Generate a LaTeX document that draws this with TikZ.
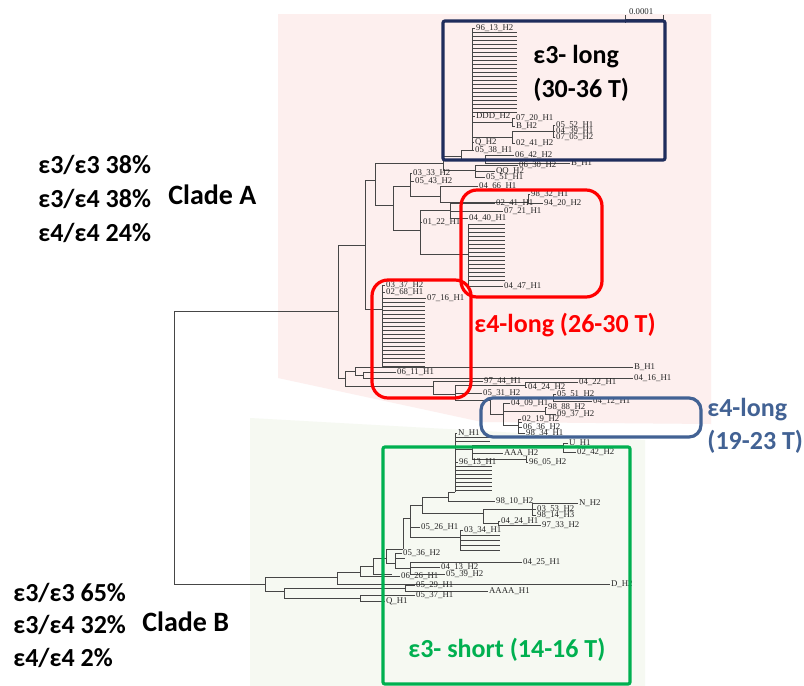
\documentclass[tikz,border=0pt]{standalone}
\usepackage{fontspec}
\setmainfont{Carlito}
\newfontfamily\treefont{Liberation Serif}
\definecolor{navybox}{RGB}{31,45,92}
\definecolor{redbox}{RGB}{255,0,0}
\definecolor{steelbox}{RGB}{66,98,148}
\definecolor{greenbox}{RGB}{0,176,80}
\definecolor{pinkbg}{RGB}{253,239,238}
\definecolor{greenbg}{RGB}{246,249,242}
\definecolor{branch}{RGB}{70,70,70}
\tikzset{
  br/.style={draw=branch,line width=0.5pt},
  stack/.style={draw=branch,line width=0.4pt},
  leaf/.style={font=\treefont\fontsize{4.4}{5}\selectfont,text=black!85,inner sep=0.3pt,anchor=west},
  big/.style={font=\bfseries\fontsize{13}{15}\selectfont,inner sep=0pt,anchor=west},
  clade/.style={font=\bfseries\fontsize{14}{16}\selectfont,inner sep=0pt,anchor=west},
  groupbox/.style={line width=1.6pt},
}
\begin{document}
\begin{tikzpicture}[x=0.5pt,y=-0.5pt]
  \useasboundingbox (0,0) rectangle (804,686);
  \fill[white] (0,0) rectangle (804,686);
  % zoom panels
  \fill[greenbg] (250,418) -- (645,440) -- (645,686) -- (250,686) -- cycle;
  \fill[pinkbg] (278,14) -- (711,14) -- (711,424) -- (482,422) -- (278,378) -- cycle;

  % scale bar
  \draw[br] (625,15) -- (625,23) (625,19) -- (663,19) (663,15) -- (663,23);
  \node[leaf] (scale) at (628,12) {0.0001};

  % root
  \draw[br] (338,311) -| (174,584) -- (265,584);

  % clade A
  \draw[br] (365,245) -| (338,378) -- (345,378);
  \draw[br] (375,180) -| (365,309) -- (382,309);
  \draw[br] (443,163) -| (375,205) -- (393,205);
  % e3 long group
  \draw[br] (461,156) -| (443,170) -- (475,170);
  \draw[br] (472,150) -| (461,160) -- (485,160);
  \draw[br] (472,28) -- (472,150);
  \draw[br] (472,28) -- (475,28) node[leaf] (e9613) {96\_13\_H2};
  \foreach \y in {32,36,...,112} \draw[stack] (472,\y) -- (517,\y);
  \draw[br] (472,116) -- (475,116) node[leaf] (eddd) {DDD\_H2};
  \draw[br] (472,122) -- (512,122);
  \draw[br] (515,118) node[leaf] (e0720) {07\_20\_H1} -| (512,126) -- (515,126) node[leaf] (ebh2) {B\_H2};
  \draw[br] (472,137) -- (512,137);
  \draw[br] (553,131) -| (512,143) -- (515,143) node[leaf] (e0241) {02\_41\_H2};
  \draw[br] (555,125) node[leaf] (e0552) {05\_52\_H1} -| (553,137) -- (555,137) node[leaf] (e0705) {07\_05\_H2};
  \draw[br] (553,131) -- (555,131) node[leaf] (e0439) {04\_39\_H1};
  \draw[br] (472,142) -- (474,142) node[leaf] (eq2) {Q\_H2};
  \draw[br] (472,150) -- (474,150) node[leaf] (e0538) {05\_38\_H1};
  \draw[br] (514,155) node[leaf] (e0642) {06\_42\_H2} -| (485,163) -- (570,163) node[leaf] (ebh1) {B\_H1};
  \draw[br] (518,165) node[leaf] (e0630) {06\_30\_H2} -| (475,177) -- (485,177) node[leaf] (e0551) {05\_51\_H1};
  \draw[br] (475,171) -- (495,171) node[leaf] (eqq2) {QQ\_H2};
  % middle groups
  \draw[br] (410,186) -| (393,230) -- (420,230);
  \draw[br] (412,173) node[leaf] (a0333) {03\_33\_H2} -| (410,196) -- (440,196);
  \draw[br] (410,181) -- (414,181) node[leaf] (a0543) {05\_43\_H2};
  \draw[br] (478,186) node[leaf] (a0466) {04\_66\_H1} -| (440,202) -- (528,202);
  \draw[br] (530,194) node[leaf] (a9832) {98\_32\_H1} -| (528,203) -- (543,203) node[leaf] (a9420) {94\_20\_H2};
  \draw[br] (450,210) -| (420,254) -- (468,254);
  \draw[br] (420,222) -- (422,222) node[leaf] (a0122) {01\_22\_H1};
  \draw[br] (495,203) node[leaf] (a0241) {02\_41\_H1} -| (450,218) -- (468,218) node[leaf] (a0440) {04\_40\_H1};
  \draw[br] (450,211) -- (503,211) node[leaf] (a0721) {07\_21\_H1};
  % e4 long group, upper box
  \draw[br] (468,224) -- (468,286);
  \foreach \y in {224,228,...,282} \draw[stack] (468,\y) -- (505,\y);
  \draw[br] (468,286) -- (503,286) node[leaf] (a0447) {04\_47\_H1};
  % e4 long group, lower box
  \draw[br] (382,285) -- (382,366);
  \draw[br] (382,285) -- (385,285) node[leaf] (a0337) {03\_37\_H2};
  \draw[br] (382,292) -- (385,292) node[leaf] (a0268) {02\_68\_H1};
  \draw[br] (382,298) -- (426,298) node[leaf] (a0716) {07\_16\_H1};
  \foreach \y in {302,306,...,366} \draw[stack] (382,\y) -- (425,\y);
  % long branches and e4 long (19-23 T)
  \draw[br] (355,371) -| (345,386) -- (433,386);
  \draw[br] (633,367) node[leaf] (abh1) {B\_H1} -| (355,375) -- (363,375);
  \draw[br] (396,372) node[leaf] (a0611) {06\_11\_H1} -| (363,378) -- (633,378) node[leaf] (a0416) {04\_16\_H1};
  \draw[br] (483,381) node[leaf] (a9744) {97\_44\_H1} -| (433,394) -- (455,394);
  \draw[br] (525,385) -| (455,400) -- (490,400);
  \draw[br] (455,393) -- (482,393) node[leaf] (a0531) {05\_31\_H2};
  \draw[br] (578,382) node[leaf] (a0422) {04\_22\_H1} -| (525,387) -- (527,387) node[leaf] (a0424) {04\_24\_H2};
  \draw[br] (553,397) -| (490,414) -- (503,414);
  \draw[br] (556,394) node[leaf] (a0551) {05\_51\_H2} -| (553,401) -- (592,401) node[leaf] (a0412) {04\_12\_H1};
  \draw[br] (510,403) node[leaf] (a0409) {04\_09\_H1} -| (503,425) -- (518,425);
  \draw[br] (503,411) -- (545,411);
  \draw[br] (547,407) node[leaf] (a9888) {98\_88\_H2} -| (545,414) -- (556,414) node[leaf] (a0937) {09\_37\_H2};
  \draw[br] (521,419) node[leaf] (a0219) {02\_19\_H2} -| (518,433) -- (525,433) node[leaf] (a9834) {98\_34\_H1};
  \draw[br] (518,422) -- (522,422);
  \draw[br] (518,427) -- (522,427) node[leaf] (a0636) {06\_36\_H2};

  % clade B
  \draw[br] (337,577) -| (265,591) -- (284,591);
  \draw[br] (360,572) -| (337,584) -- (610,584) node[leaf] (bd2) {D\_H2};
  \draw[br] (373,566) -| (360,576) -- (400,576) node[leaf] (b0626) {06\_26\_H1};
  \draw[br] (386,558) -| (373,574) -- (392,574);
  \draw[br] (403,549) -| (386,563) -- (395,563);
  \draw[br] (410,518) -| (403,549);
  \draw[br] (422,505) -| (410,537) -- (460,537);
  \draw[br] (410,527) -- (420,527) node[leaf] (b0526) {05\_26\_H1};
  \draw[br] (448,497) -| (422,513) -- (483,513);
  \draw[br] (455,492) -| (448,501) -- (495,501) node[leaf] (b9810) {98\_10\_H2};
  % e3 short stack
  \draw[br] (455,433) -- (455,492);
  \draw[br] (455,433) -- (457,433) node[leaf] (bn1) {N\_H1};
  \foreach \y in {437,441} \draw[stack] (455,\y) -- (490,\y);
  \draw[br] (455,449) -- (472,449);
  \draw[br] (563,445) -| (472,459) -- (526,459);
  \draw[br] (472,453) -- (503,453) node[leaf] (baaa) {AAA\_H2};
  \draw[br] (568,443) node[leaf] (bu1) {U\_H1} -| (563,452) -- (576,452) node[leaf] (b0242) {02\_42\_H2};
  \draw[br] (526,456) -- (526,462) -- (528,462) node[leaf] (b9605) {96\_05\_H2};
  \draw[br] (455,462) -- (458,462) node[leaf] (b9613) {96\_13\_H1};
  \foreach \y in {466,470,...,490} \draw[stack] (455,\y) -- (492,\y);
  \draw[br] (532,509) -| (483,523) -- (498,523);
  \draw[br] (578,503) node[leaf] (bn2) {N\_H2} -| (532,515) -- (536,515) node[leaf] (b9814) {98\_14\_H3};
  \draw[br] (532,509) -- (536,509) node[leaf] (b0353) {03\_53\_H2};
  \draw[br] (500,521) node[leaf] (b0424) {04\_24\_H1} -| (498,525) -- (541,525) node[leaf] (b9733) {97\_33\_H2};
  \draw[br] (460,530) -- (460,550);
  \draw[br] (460,530) -- (463,530) node[leaf] (b0334) {03\_34\_H1};
  \foreach \y in {535,540,545,550} \draw[stack] (460,\y) -- (500,\y);
  \draw[br] (402,553) node[leaf] (b0536) {05\_36\_H2} -| (395,568) -- (410,568);
  \draw[br] (395,558) -- (405,558);
  \draw[br] (522,562) node[leaf] (b0425) {04\_25\_H1} -| (410,574) -- (445,574) node[leaf] (b0539) {05\_39\_H2};
  \draw[br] (410,567) -- (440,567) node[leaf] (b0413) {04\_13\_H2};
  \draw[br] (405,588) -| (284,598) -- (360,598);
  \draw[br] (415,585) node[leaf] (b0529) {05\_29\_H1} -| (405,591) -- (488,591) node[leaf] (baaaa) {AAAA\_H1};
  \draw[br] (415,595) node[leaf] (b0537) {05\_37\_H1} -| (360,601) -- (385,601) node[leaf] (bq1) {Q\_H1};

  % group boxes
  \draw[groupbox,navybox,rounded corners=1pt] (443,21) rectangle (665,160);
  \draw[groupbox,redbox,rounded corners=8pt] (461,190) rectangle (602,297);
  \draw[groupbox,redbox,rounded corners=8pt] (372,280) rectangle (471,398);
  \draw[groupbox,steelbox,rounded corners=6pt] (481,398) rectangle (701,437);
  \draw[groupbox,greenbox,rounded corners=1pt] (383,447) rectangle (630,684);

  % group labels
  \node[big] (e3longa) at (533,57) {ε3- long};
  \node[big] (e3longb) at (533,90) {(30-36 T)};
  \node[big,text=redbox] (e4long) at (474,325) {ε4-long (26-30 T)};
  \node[big,text=steelbox] (e4shorta) at (707,410) {ε4-long};
  \node[big,text=steelbox] (e4shortb) at (707,442) {(19-23 T)};
  \node[big,text=greenbox] (e3short) at (408,650) {ε3- short (14-16 T)};

  % genotype frequencies
  \node[big] (fa1) at (38,165) {ε3/ε3 38\%};
  \node[big] (fa2) at (38,199) {ε3/ε4 38\%};
  \node[big] (fa3) at (38,233) {ε4/ε4 24\%};
  \node[clade] (cladeA) at (168,195) {Clade A};
  \node[big] (fb1) at (13,593) {ε3/ε3 65\%};
  \node[big] (fb2) at (13,625) {ε3/ε4 32\%};
  \node[big] (fb3) at (13,658) {ε4/ε4 2\%};
  \node[clade] (cladeB) at (142,622) {Clade B};
\end{tikzpicture}
\end{document}
